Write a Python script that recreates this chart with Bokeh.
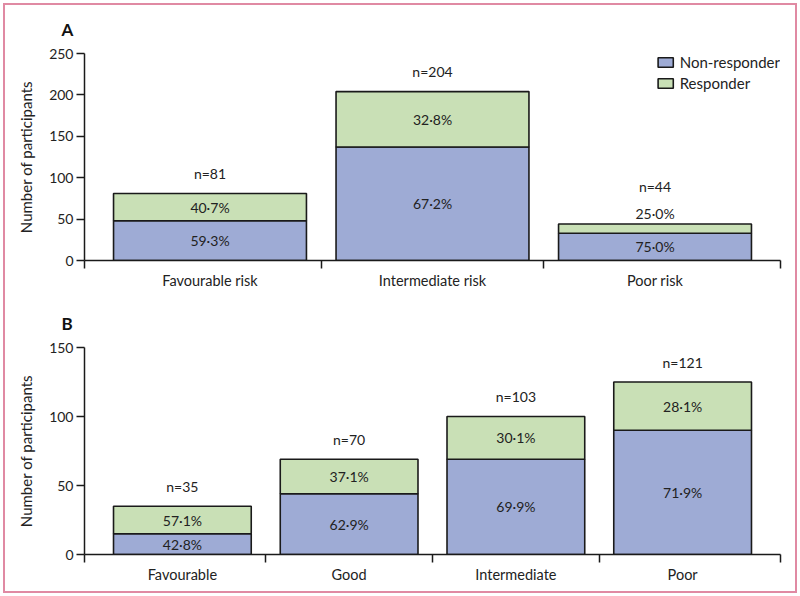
from bokeh.plotting import figure
from bokeh.layouts import column
from bokeh.models import FixedTicker, Range1d, ColumnDataSource
from bokeh.core.properties import value
from bokeh.embed import file_html
from bokeh.resources import INLINE

# ---------------- data ----------------
categories_a = ["Favourable risk", "Intermediate risk", "Poor risk"]
nonresp_a = [48, 137, 33]
resp_a = [33, 67, 11]
n_a = [81, 204, 44]
pct_non_a = ["59·3%", "67·2%", "75·0%"]
pct_resp_a = ["40·7%", "32·8%", "25·0%"]

categories_b = ["Favourable", "Good", "Intermediate", "Poor"]
nonresp_b = [15, 44, 69, 90]
resp_b = [20, 25, 31, 35]
n_b = [35, 70, 103, 121]
pct_non_b = ["42·8%", "62·9%", "69·9%", "71·9%"]
pct_resp_b = ["57·1%", "37·1%", "30·1%", "28·1%"]

yticks_a = [0, 50, 100, 150, 200, 250]
yticks_b = [0, 50, 100, 150]

BLUE = "#9eabd5"
GREEN = "#c9e0b6"
EDGE = "#1a1a1a"
FONT = "Lato"
TXT = "#222222"


def make_panel(letter, cats, non, resp, ns, pnon, presp, yticks, ymax,
               pad, bar_w, height, mb_top, mb_bottom, legend):
    k = len(cats)
    xs = list(range(k))
    p = figure(width=800, height=height, output_backend="svg", toolbar_location=None,
               x_range=Range1d(-pad, k - 1 + pad), y_range=Range1d(0, ymax),
               min_border_left=84, min_border_right=20,
               min_border_top=mb_top, min_border_bottom=mb_bottom)
    p.background_fill_color = None
    p.border_fill_color = None
    p.outline_line_color = None
    p.xgrid.visible = False
    p.ygrid.visible = False

    tops = [a + b for a, b in zip(non, resp)]
    src = ColumnDataSource(dict(x=xs, non=non, top=tops,
                                mid_non=[v / 2 for v in non], pnon=pnon))
    kw_non = dict(legend_label="Non-responder") if legend else {}
    kw_resp = dict(legend_label="Responder") if legend else {}
    p.vbar(x="x", bottom=0, top="non", width=bar_w, source=src,
           fill_color=BLUE, line_color=EDGE, line_width=1.6, **kw_non)
    p.vbar(x="x", bottom="non", top="top", width=bar_w, source=src,
           fill_color=GREEN, line_color=EDGE, line_width=1.6, **kw_resp)

    # percent labels
    p.text(x="x", y="mid_non", text="pnon", source=src, text_align="center",
           text_baseline="middle", text_font=value(FONT), text_font_size="14px",
           text_color=TXT)
    thin = [b < 15 for b in resp]
    big_idx = [i for i in range(k) if not thin[i]]
    small_idx = [i for i in range(k) if thin[i]]
    if big_idx:
        s2 = ColumnDataSource(dict(x=[xs[i] for i in big_idx],
                                   y=[non[i] + resp[i] / 2 for i in big_idx],
                                   t=[presp[i] for i in big_idx]))
        p.text(x="x", y="y", text="t", source=s2, text_align="center",
               text_baseline="middle", text_font=value(FONT), text_font_size="14px",
               text_color=TXT)
        s4 = ColumnDataSource(dict(x=[xs[i] for i in big_idx], y=[tops[i] for i in big_idx],
                                   t=["n=%d" % ns[i] for i in big_idx]))
        p.text(x="x", y="y", text="t", source=s4, text_align="center",
               text_baseline="middle", y_offset=-20, text_font=value(FONT),
               text_font_size="14px", text_color=TXT)
    if small_idx:
        s3 = ColumnDataSource(dict(x=[xs[i] for i in small_idx],
                                   y=[tops[i] for i in small_idx],
                                   t=[presp[i] for i in small_idx]))
        p.text(x="x", y="y", text="t", source=s3, text_align="center",
               text_baseline="middle", y_offset=-11, text_font=value(FONT),
               text_font_size="14px", text_color=TXT)
        s5 = ColumnDataSource(dict(x=[xs[i] for i in small_idx], y=[tops[i] for i in small_idx],
                                   t=["n=%d" % ns[i] for i in small_idx]))
        p.text(x="x", y="y", text="t", source=s5, text_align="center",
               text_baseline="middle", y_offset=-38, text_font=value(FONT),
               text_font_size="14px", text_color=TXT)

    # x axis: labels at centres, ticks at boundaries
    bounds = [-pad + 0.0005] + [i + 0.5 for i in range(k - 1)] + [k - 1 + pad - 0.0005]
    xa = p.xaxis[0]
    xa.ticker = FixedTicker(ticks=xs, minor_ticks=bounds)
    xa.major_label_overrides = {i: c for i, c in enumerate(cats)}
    xa.major_tick_out = 0
    xa.major_tick_in = 0
    xa.minor_tick_out = 8
    xa.minor_tick_in = 0
    xa.minor_tick_line_color = EDGE
    xa.minor_tick_line_width = 1.5
    xa.axis_line_color = EDGE
    xa.axis_line_width = 1.5
    xa.major_label_standoff = 3
    xa.major_label_text_font = FONT
    xa.major_label_text_font_size = "14.5px"
    xa.major_label_text_color = TXT

    ya = p.yaxis[0]
    ya.ticker = FixedTicker(ticks=yticks)
    ya.major_tick_out = 8
    ya.major_tick_in = 0
    ya.minor_tick_out = 0
    ya.minor_tick_in = 0
    ya.major_tick_line_color = EDGE
    ya.major_tick_line_width = 1.5
    ya.axis_line_color = EDGE
    ya.axis_line_width = 1.5
    ya.major_label_standoff = 3
    ya.major_label_text_font = FONT
    ya.major_label_text_font_size = "14px"
    ya.major_label_text_color = TXT
    ya.axis_label = "Number of participants"
    ya.axis_label_text_font = FONT
    ya.axis_label_text_font_style = "normal"
    ya.axis_label_text_font_size = "15px"
    ya.axis_label_text_color = TXT
    ya.axis_label_standoff = 11

    p.title.text = letter
    p.title.text_font = FONT
    p.title.text_font_size = "17px"
    p.title.text_font_style = "bold"
    p.title.text_color = "#111111"
    p.title.align = "left"
    p.title.offset = -23
    p.title.standoff = 28

    if legend:
        lg = p.legend[0]
        lg.location = "top_right"
        lg.margin = 0
        lg.padding = 0
        lg.border_line_color = None
        lg.background_fill_alpha = 0
        lg.glyph_width = 19
        lg.glyph_height = 12
        lg.label_height = 12
        lg.label_standoff = 5
        lg.spacing = 3
        lg.label_text_font = FONT
        lg.label_text_font_size = "15px"
        lg.label_text_color = TXT
    return p


p1 = make_panel("A", categories_a, nonresp_a, resp_a, n_a, pct_non_a, pct_resp_a,
                yticks_a, 250, 0.564, 0.867, 296, 53, 36, True)
p2 = make_panel("B", categories_b, nonresp_b, resp_b, n_b, pct_non_b, pct_resp_b,
                yticks_b, 150, 0.587, 0.826, 300, 51, 42, False)

layout = column(p1, p2, styles={"outline": "2px solid #e08aa3", "outline-offset": "-5px",
                                "background-color": "white"})
open("out.html", "w").write(file_html(layout, INLINE))
